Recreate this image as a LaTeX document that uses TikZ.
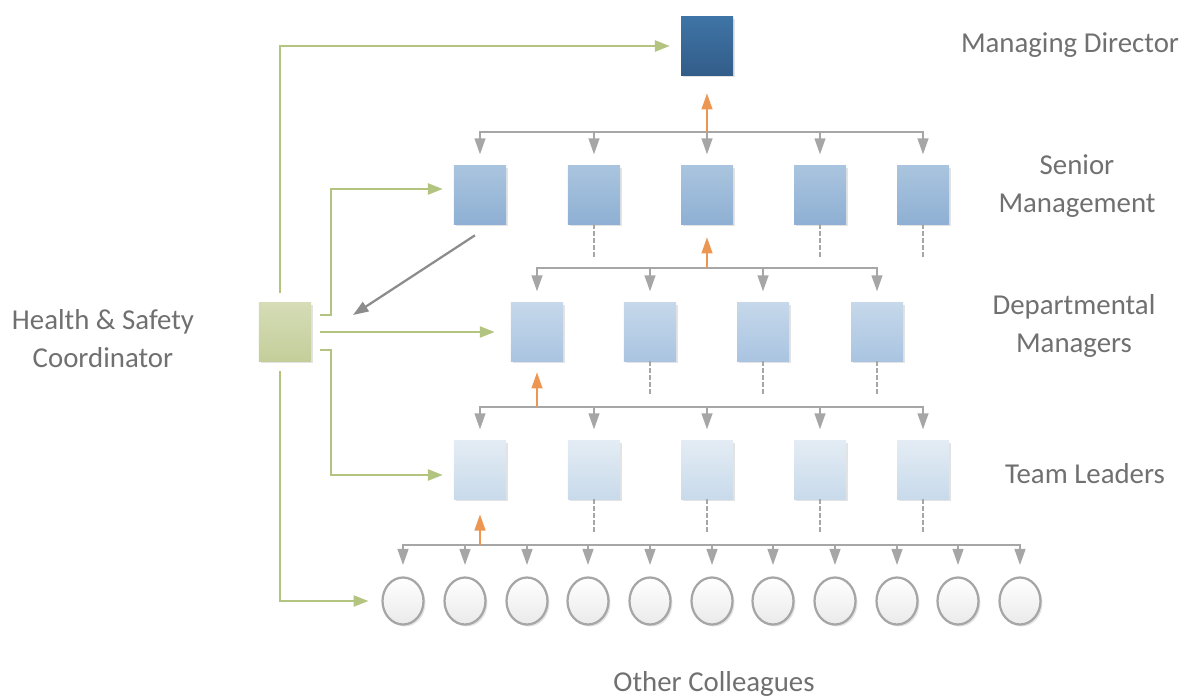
\documentclass[tikz,border=0pt]{standalone}
\usepackage{fontspec}
\setmainfont{Carlito}
\usetikzlibrary{shapes,calc,arrows.meta}

\definecolor{txtgray}{RGB}{112,112,112}
\definecolor{busgray}{RGB}{166,166,166}
\definecolor{diaggray}{RGB}{140,140,140}
\definecolor{hsgreen}{RGB}{178,196,128}
\definecolor{orng}{RGB}{237,150,82}
\definecolor{mdtop}{RGB}{62,116,166}
\definecolor{mdbot}{RGB}{51,93,137}
\definecolor{sentop}{RGB}{169,196,222}
\definecolor{senbot}{RGB}{143,176,212}
\definecolor{deptop}{RGB}{198,216,234}
\definecolor{depbot}{RGB}{169,196,225}
\definecolor{teamtop}{RGB}{227,236,244}
\definecolor{teambot}{RGB}{200,218,235}
\definecolor{hstop}{RGB}{213,220,182}
\definecolor{hsbot}{RGB}{196,206,154}
\definecolor{circbot}{RGB}{234,234,234}

\begin{document}
\begin{tikzpicture}[x=0.025cm,y=-0.025cm,
  shadowed/.style={preaction={fill=black!11,transform canvas={shift={(1.4pt,-1.4pt)}}}},
  box/.style={rectangle,inner sep=0pt,minimum width=1.3cm,minimum height=1.45cm,shadowed},
  person/.style={ellipse,inner sep=0pt,minimum width=1.025cm,minimum height=1.175cm,
    draw=busgray,line width=1.6pt,top color=white,bottom color=circbot,shadowed},
  lbl/.style={inner sep=0pt,align=center,text=txtgray,font=\fontsize{20.5}{27}\selectfont},
  bus/.style={draw=busgray,line width=1.6pt,line cap=rect},
  drop/.style={draw=busgray,line width=1.6pt,-{Triangle[width=7.6pt,length=11.5pt]},shorten >=8pt},
  up/.style={draw=orng,line width=1.6pt,-{Triangle[width=7.6pt,length=11.5pt]}},
  hs/.style={draw=hsgreen,line width=1.6pt,-{Triangle[width=7.8pt,length=10.5pt]}},
  diag/.style={draw=diaggray,line width=1.6pt,-{Triangle[width=7.8pt,length=11pt]}},
  stub/.style={draw=busgray,line width=1.1pt,dash pattern=on 3pt off 2pt}]
\useasboundingbox (0,0) rectangle (1185,698);

\node[box,top color=mdtop,bottom color=mdbot] (MD) at (707,46) {};
\node[box,top color=sentop,bottom color=senbot] (S1) at (480,195) {};
\node[box,top color=sentop,bottom color=senbot] (S2) at (594,195) {};
\node[box,top color=sentop,bottom color=senbot] (S3) at (707,195) {};
\node[box,top color=sentop,bottom color=senbot] (S4) at (820,195) {};
\node[box,top color=sentop,bottom color=senbot] (S5) at (923,195) {};
\node[box,top color=deptop,bottom color=depbot] (D1) at (537,332) {};
\node[box,top color=deptop,bottom color=depbot] (D2) at (650,332) {};
\node[box,top color=deptop,bottom color=depbot] (D3) at (763,332) {};
\node[box,top color=deptop,bottom color=depbot] (D4) at (877,332) {};
\node[box,top color=teamtop,bottom color=teambot] (T1) at (480,470) {};
\node[box,top color=teamtop,bottom color=teambot] (T2) at (594,470) {};
\node[box,top color=teamtop,bottom color=teambot] (T3) at (707,470) {};
\node[box,top color=teamtop,bottom color=teambot] (T4) at (820,470) {};
\node[box,top color=teamtop,bottom color=teambot] (T5) at (923,470) {};
\node[box,top color=hstop,bottom color=hsbot] (HS) at (285,332) {};
\node[person] (C1) at (403,601) {};
\node[person] (C2) at (465,601) {};
\node[person] (C3) at (527,601) {};
\node[person] (C4) at (588,601) {};
\node[person] (C5) at (650,601) {};
\node[person] (C6) at (712,601) {};
\node[person] (C7) at (773,601) {};
\node[person] (C8) at (835,601) {};
\node[person] (C9) at (897,601) {};
\node[person] (C10) at (958,601) {};
\node[person] (C11) at (1020,601) {};

\node[lbl] (mdlbl) at (1070,45) {Managing Director};
\node[lbl] (senlbl) at (1077,186) {Senior\\Management};
\node[lbl] (deplbl) at (1074,326) {Departmental\\Managers};
\node[lbl] (teamlbl) at (1085,474) {Team Leaders};
\node[lbl] (hslbl) at (103,339) {Health \& Safety\\Coordinator};
\node[lbl] (collbl) at (714,684) {Other Colleagues};

\coordinate (sbus) at (707,132);
\coordinate (dbus) at (707,268);
\coordinate (tbus) at (707,407);
\coordinate (cbus) at (707,545);
\coordinate (hsin) at (353,315);

\draw[bus] (S1 |- sbus) -- (S5 |- sbus);
\path (S1 |- sbus) edge[drop] (S1) (S2 |- sbus) edge[drop] (S2) (S3 |- sbus) edge[drop] (S3)
  (S4 |- sbus) edge[drop] (S4) (S5 |- sbus) edge[drop] (S5);
\draw[bus] (D1 |- dbus) -- (D4 |- dbus);
\path (D1 |- dbus) edge[drop] (D1) (D2 |- dbus) edge[drop] (D2) (D3 |- dbus) edge[drop] (D3)
  (D4 |- dbus) edge[drop] (D4);
\draw[bus] (T1 |- tbus) -- (T5 |- tbus);
\path (T1 |- tbus) edge[drop] (T1) (T2 |- tbus) edge[drop] (T2) (T3 |- tbus) edge[drop] (T3)
  (T4 |- tbus) edge[drop] (T4) (T5 |- tbus) edge[drop] (T5);
\draw[bus] (C1 |- cbus) -- (C11 |- cbus);
\path (C1 |- cbus) edge[drop] (C1) (C2 |- cbus) edge[drop] (C2) (C3 |- cbus) edge[drop] (C3)
  (C4 |- cbus) edge[drop] (C4) (C5 |- cbus) edge[drop] (C5) (C6 |- cbus) edge[drop] (C6)
  (C7 |- cbus) edge[drop] (C7) (C8 |- cbus) edge[drop] (C8) (C9 |- cbus) edge[drop] (C9)
  (C10 |- cbus) edge[drop] (C10) (C11 |- cbus) edge[drop] (C11);

% reporting lines
\draw[up,shorten >=12.8pt] (MD |- sbus) -- (MD);
\draw[up,shorten >=9.2pt] (S3 |- dbus) -- (S3);
\draw[up,shorten >=7.8pt] (D1 |- tbus) -- (D1);
\draw[up,shorten >=10.7pt] (T1 |- cbus) -- (T1);

\draw[stub] (S2.south) -- ++(0,34);
\draw[stub] (S4.south) -- ++(0,34);
\draw[stub] (S5.south) -- ++(0,34);
\draw[stub] (D2.south) -- ++(0,34);
\draw[stub] (D3.south) -- ++(0,34);
\draw[stub] (D4.south) -- ++(0,34);
\draw[stub] (T2.south) -- ++(0,34);
\draw[stub] (T3.south) -- ++(0,34);
\draw[stub] (T4.south) -- ++(0,34);
\draw[stub] (T5.south) -- ++(0,34);

% health & safety links
\draw[hs,shorten <=7.1pt,shorten >=7.8pt] ([xshift=-3.6pt]HS.north) |- (MD);
\draw[hs,shorten <=7.1pt,shorten >=9.2pt] ([xshift=-3.6pt]HS.south) |- (C1);
\draw[hs,shorten >=7.8pt] ($(HS.east)+(9,-17)$) -- ++(11,0) |- ($(S1.west)+(0,-6)$);
\draw[hs,shorten >=11.4pt] ($(HS.east)+(9,0)$) -- (D1);
\draw[hs,shorten >=7.8pt] ($(HS.east)+(9,18)$) -- ++(11,0) |- ($(T1.west)+(0,5)$);
\draw[diag] ($(S1.south)+(-5,11)$) -- (hsin);
\end{tikzpicture}
\end{document}
